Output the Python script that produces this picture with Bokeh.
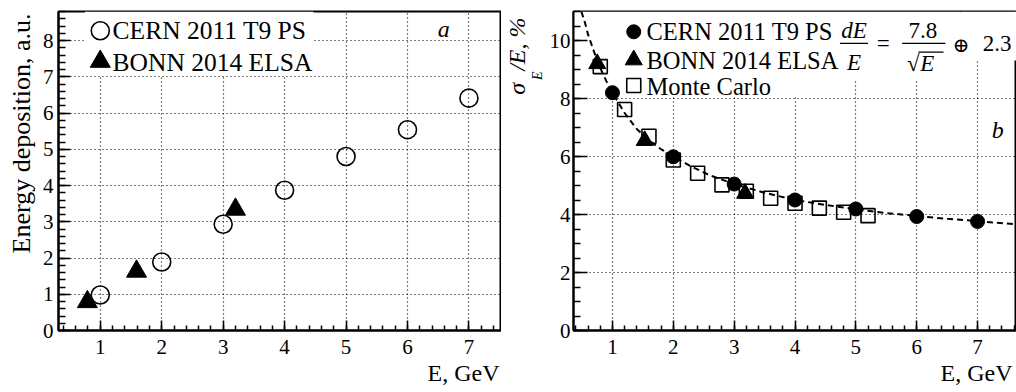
from bokeh.plotting import figure
from bokeh.layouts import row
from bokeh.models import FixedTicker, Label, Range1d, Title
from bokeh.embed import file_html
from bokeh.resources import INLINE

# ---------------- data ----------------
# panel a: energy deposition vs beam energy
cern_a_E = [1, 2, 3, 4, 5, 6, 7]
cern_a_dep = [0.98, 1.89, 2.93, 3.87, 4.80, 5.54, 6.41]
bonn_a_E = [0.79, 1.59, 3.20]
bonn_a_dep = [0.79, 1.63, 3.34]

# panel b: energy resolution vs beam energy
cern_b_E = [1, 2, 3, 4, 5, 6, 7]
cern_b_res = [8.2, 5.99, 5.05, 4.50, 4.19, 3.93, 3.76]
bonn_b_E = [0.75, 1.53, 3.18]
bonn_b_res = [9.2, 6.55, 4.73]
mc_E = [0.8, 1.2, 1.6, 2.0, 2.4, 2.8, 3.2, 3.6, 4.0, 4.4, 4.8, 5.2]
mc_res = [9.1, 7.62, 6.7, 5.88, 5.42, 5.02, 4.8, 4.56, 4.39, 4.22, 4.08, 3.96]
# dashed fit curve
fit_E = [0.49, 0.55, 0.6, 0.7, 0.8, 0.9, 1.0, 1.2, 1.4, 1.6, 1.8, 2.0, 2.3, 2.6,
         3.0, 3.5, 4.0, 4.5, 5.0, 5.5, 6.0, 6.5, 7.0, 7.64]
fit_res = [11.0, 10.6, 10.2, 9.6, 9.05, 8.6, 8.2, 7.5, 6.95, 6.55, 6.25, 6.0, 5.65, 5.35,
           5.05, 4.75, 4.5, 4.33, 4.18, 4.05, 3.95, 3.85, 3.77, 3.66]

x_ticks = [1, 2, 3, 4, 5, 6, 7]
a_yticks = [0, 1, 2, 3, 4, 5, 6, 7, 8]
b_yticks = [0, 2, 4, 6, 8, 10]

leg_a = ["CERN 2011 T9 PS", "BONN 2014 ELSA"]
leg_b = ["CERN 2011 T9 PS", "BONN 2014 ELSA", "Monte Carlo"]

SERIF = "Liberation Serif"
H = 392


def minor(lo, hi, step):
    n = int(round((hi - lo) / step))
    return [round(lo + i * step, 4) for i in range(n + 1)]


def make_fig(w, xr, yr, mbl, mbr, mbt, mbb, yticks, yminor, ymaj_len, ymin_len,
             ystandoff):
    p = figure(width=w, height=H, x_range=Range1d(*xr), y_range=Range1d(*yr),
               output_backend="svg", toolbar_location=None,
               min_border_left=mbl, min_border_right=mbr,
               min_border_top=mbt, min_border_bottom=mbb)
    p.background_fill_color = "white"
    p.border_fill_color = "white"
    p.outline_line_color = "black"
    p.outline_line_width = 2
    p.outline_line_alpha = 1.0
    xt = FixedTicker(ticks=x_ticks, minor_ticks=minor(0.2, 7.8, 0.2))
    yt = FixedTicker(ticks=yticks, minor_ticks=yminor)
    p.xaxis.ticker = xt
    p.yaxis.ticker = yt
    p.xgrid.ticker = xt
    p.ygrid.ticker = yt
    for ax in (p.xaxis[0], p.yaxis[0]):
        ax.axis_line_width = 2
        ax.axis_line_color = "black"
        ax.major_tick_line_color = "black"
        ax.minor_tick_line_color = "black"
        ax.major_tick_line_width = 1.5
        ax.minor_tick_line_width = 1.5
        ax.major_tick_out = 0
        ax.minor_tick_out = 0
        ax.major_label_text_font = SERIF
        ax.major_label_text_font_size = "21px"
        ax.major_label_text_color = "black"
    p.xaxis.major_tick_in = 10
    p.xaxis.minor_tick_in = 5
    p.yaxis.major_tick_in = ymaj_len
    p.yaxis.minor_tick_in = ymin_len
    p.xaxis.major_label_standoff = 9
    p.yaxis.major_label_standoff = ystandoff
    for g in (p.xgrid[0], p.ygrid[0]):
        g.grid_line_color = "black"
        g.grid_line_dash = "1 3"
        g.grid_line_width = 1.2
        g.grid_line_alpha = 1.0
    return p


def lab(p, x, y, text, size="23px", style="normal", align="left",
        baseline="middle", angle=0.0, font=SERIF):
    p.add_layout(Label(x=x, y=y, text=text, text_font=font, text_font_size=size,
                       text_font_style=style, text_align=align,
                       text_baseline=baseline, angle=angle, text_color="black"))


def title(p, side, text, size, style="normal", offset=0, standoff=0,
          valign="bottom"):
    p.add_layout(Title(text=text, align="right", offset=offset,
                       vertical_align=valign, text_font=SERIF,
                       text_font_size=size, text_font_style=style,
                       text_color="black", standoff=standoff), side)


# ---------------- panel a ----------------
pa = make_fig(501, (0.32, 7.53), (0, 8.8), 56, 0, 10, 62, a_yticks,
              minor(0, 8.8, 0.2), 12, 7, 5)
# legend background (hides the grid)
pa.quad(left=[0.75], right=[4.47], bottom=[7.05], top=[8.8],
        fill_color="white", line_color=None)
pa.scatter(cern_a_E, cern_a_dep, marker="circle", size=18, fill_color=None,
           line_color="black", line_width=1.6)
pa.scatter(bonn_a_E, bonn_a_dep, marker="triangle", size=20, fill_color="black",
           line_color="black")
# legend
pa.scatter([1.0], [8.27], marker="circle", size=18, fill_color=None,
           line_color="black", line_width=1.6)
pa.scatter([1.0], [7.42], marker="triangle", size=20, fill_color="black",
           line_color="black")
lab(pa, 1.2, 8.27, leg_a[0], size="25.5px")
lab(pa, 1.2, 7.40, leg_a[1], size="25.5px")
lab(pa, 6.59, 8.32, "a", size="24px", style="italic", align="center")
# axis titles
title(pa, "left", "Energy deposition, a.u.", "26px", offset=2, standoff=8)
title(pa, "below", "E, GeV", "24px", offset=2, standoff=2)

# ---------------- panel b ----------------
pb = make_fig(515, (0.36, 7.64), (0, 11.0), 70, 0, 11, 61, b_yticks,
              minor(0, 11.0, 0.5), 14, 7, 3)
# legend / formula backgrounds
pb.quad(left=[0.36, 4.57, 6.72], right=[4.57, 6.72, 7.64],
        bottom=[8.04, 8.63, 9.31], top=[11.0, 11.0, 11.0],
        fill_color="white", line_color=None)
pb.line(fit_E, fit_res, line_color="black", line_width=2, line_dash="6 4")
pb.scatter(mc_E, mc_res, marker="square", size=14, fill_color=None,
           line_color="black", line_width=1.6)
pb.scatter(bonn_b_E, bonn_b_res, marker="triangle", size=17, fill_color="black",
           line_color="black")
pb.scatter(cern_b_E, cern_b_res, marker="circle", size=14, fill_color="black",
           line_color="black")
# legend
pb.scatter([1.35], [10.3], marker="circle", size=14, fill_color="black",
           line_color="black")
pb.scatter([1.35], [9.33], marker="triangle", size=17, fill_color="black",
           line_color="black")
pb.scatter([1.35], [8.45], marker="square", size=14, fill_color=None,
           line_color="black", line_width=1.6)
lab(pb, 1.56, 10.3, leg_b[0], size="24.5px")
lab(pb, 1.56, 9.31, leg_b[1], size="24.5px")
lab(pb, 1.56, 8.42, leg_b[2], size="24.5px")
# formula dE/E = 7.8/sqrt(E) (+) 2.3
lab(pb, 4.97, 10.34, "dE", size="23px", style="italic", align="center")
lab(pb, 4.97, 9.24, "E", size="23px", style="italic", align="center")
pb.segment(x0=[4.74, 5.76], y0=[9.9, 9.9], x1=[5.20, 6.47], y1=[9.9, 9.9],
           line_color="black", line_width=1.3)
lab(pb, 5.45, 9.9, "=", size="23px", align="center")
lab(pb, 6.1, 10.34, "7.8", size="23px", align="center")
lab(pb, 6.05, 9.2, "\u221a", size="23px", align="right")
lab(pb, 6.06, 9.2, "E", size="23px", style="italic", align="left")
pb.segment(x0=[6.03], y0=[9.6], x1=[6.44], y1=[9.6], line_color="black",
           line_width=1.2)
lab(pb, 6.73, 9.83, "\u2295", size="20px", align="center", font="DejaVu Serif")
lab(pb, 7.32, 9.9, "2.3", size="23px", align="center")
lab(pb, 7.33, 6.9, "b", size="24px", style="italic", align="center")
# axis titles: subscript column (inner), main column (outer)
title(pb, "left", "E", "14px", style="italic", offset=60, standoff=0,
      valign="top")
title(pb, "left", "\u03c3\u2002/E, %", "24px", style="italic", offset=6,
      standoff=0)
title(pb, "below", "E, GeV", "24px", offset=4, standoff=2)

layout = row(pa, pb)
open("out.html", "w").write(file_html(layout, INLINE))
